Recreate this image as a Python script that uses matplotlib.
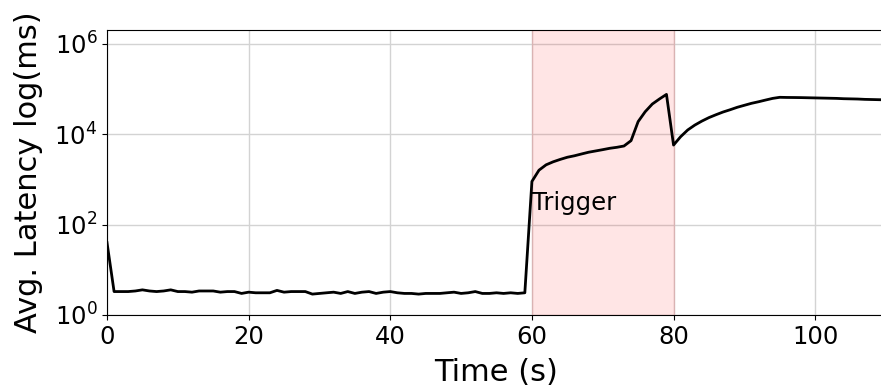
import matplotlib
matplotlib.use("Agg")
import matplotlib.pyplot as plt
import numpy as np

# ---- data ----
time_s = list(range(0, 111))

pre_trigger = [40,
    3.3, 3.3, 3.3, 3.4, 3.6, 3.4, 3.3, 3.4, 3.6, 3.3,
    3.3, 3.2, 3.4, 3.4, 3.4, 3.2, 3.3, 3.3, 3.0, 3.2,
    3.1, 3.1, 3.1, 3.5, 3.2, 3.3, 3.3, 3.3, 2.9, 3.0,
    3.1, 3.2, 3.0, 3.3, 3.0, 3.2, 3.3, 3.0, 3.2, 3.3,
    3.1, 3.0, 3.0, 2.9, 3.0, 3.0, 3.0, 3.1, 3.2, 3.0,
    3.1, 3.3, 3.0, 3.0, 3.1, 3.0, 3.1, 3.0, 3.1]          # t = 0..59
trigger = [900, 1600, 2100, 2450, 2770, 3090, 3330, 3650, 3990, 4260,
           4550, 4880, 5130, 5480, 7200, 19000, 31500, 46500, 60000, 76000]  # t = 60..79
post_trigger = [5750, 8800, 12400, 15900, 19500, 23300, 27000, 31000, 34800, 39400,
                43600, 48200, 52200, 57000, 62000, 65500,
                65000, 64800, 64500, 64000, 63500, 63000, 62500, 62000, 61000,
                60500, 60000, 59000, 58500, 58000, 57500]      # t = 80..110
latency_ms = pre_trigger + trigger + post_trigger

trigger_start, trigger_end = 60, 80
x_ticks = [0, 20, 40, 60, 80, 100]

# ---- plot ----
fig = plt.figure(figsize=(8.81, 3.87), dpi=100)
ax = fig.add_axes([107/881, 1 - 315/387, (886 - 107)/881, (315 - 30)/387])

ax.axvspan(trigger_start, trigger_end, color="red", alpha=0.1, zorder=1)
ax.plot(time_s, latency_ms, color="black", linewidth=2, zorder=3)
ax.text(trigger_start, 300, "Trigger", fontsize=17.5, va="center", ha="left", zorder=4)

ax.set_yscale("log")
ax.set_ylim(1, 2.02e6)
ax.set_xlim(0, 110)
ax.set_xticks(x_ticks)
ax.set_yticks([1, 1e2, 1e4, 1e6])
ax.grid(True, which="major", color="#d3d3d3", linewidth=1, zorder=0)
ax.set_axisbelow(True)
ax.tick_params(axis="both", which="major", labelsize=17.5)
ax.set_xlabel("Time (s)", fontsize=22, labelpad=7)
ax.set_ylabel("Avg. Latency log(ms)", fontsize=22, labelpad=8)

fig.savefig("out.png", dpi=100)
